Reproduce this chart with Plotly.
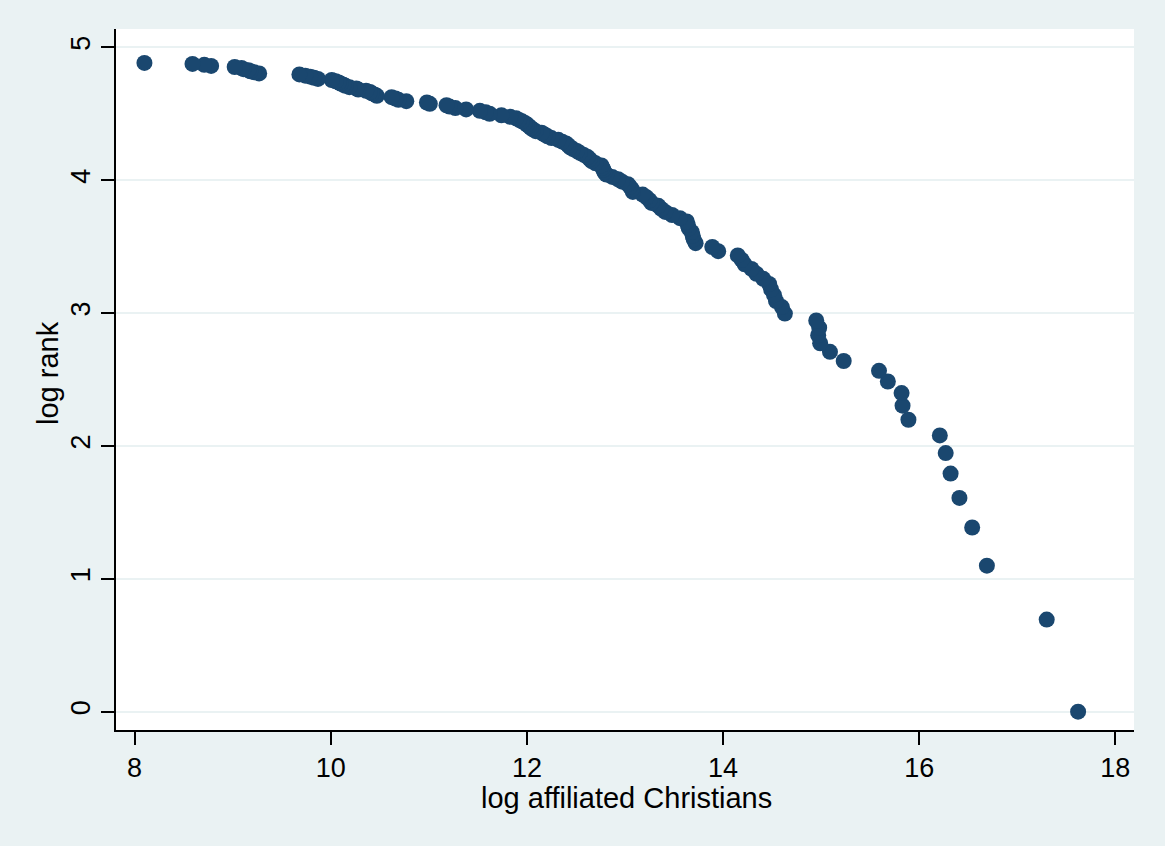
import plotly.graph_objects as go

# log affiliated Christians, ordered by rank 1..132
log_christians = [
    17.62, 17.30, 16.69, 16.54, 16.41, 16.32, 16.27, 16.21, 15.89, 15.83,
    15.82, 15.68, 15.59, 15.23, 15.09, 14.99, 14.97, 14.98, 14.95, 14.63,
    14.60, 14.54, 14.52, 14.49, 14.47, 14.41, 14.34, 14.29, 14.22, 14.19,
    14.15, 13.95, 13.89, 13.72, 13.70, 13.69, 13.68, 13.65, 13.64, 13.63,
    13.56, 13.48, 13.41, 13.37, 13.34, 13.27, 13.25, 13.22, 13.18, 13.08,
    13.07, 13.05, 13.03, 12.97, 12.93, 12.87, 12.81, 12.79, 12.78, 12.77,
    12.76, 12.70, 12.66, 12.64, 12.62, 12.58, 12.54, 12.51, 12.47, 12.44,
    12.42, 12.40, 12.36, 12.32, 12.25, 12.21, 12.18, 12.15, 12.09, 12.06,
    12.04, 12.02, 12.00, 11.98, 11.95, 11.92, 11.89, 11.83, 11.74, 11.62,
    11.58, 11.52, 11.38, 11.27, 11.21, 11.18, 11.01, 10.98, 10.77, 10.69,
    10.66, 10.62, 10.47, 10.45, 10.42, 10.40, 10.36, 10.28, 10.26, 10.19,
    10.15, 10.13, 10.10, 10.08, 10.05, 10.01, 9.87, 9.83, 9.79, 9.74,
    9.68, 9.27, 9.22, 9.18, 9.16, 9.11, 9.09, 9.02, 8.78, 8.71,
    8.59, 8.10,
]

# log rank (ln of ranks 1..132)
log_rank = [
    0.000, 0.693, 1.099, 1.386, 1.609, 1.792, 1.946, 2.079, 2.197, 2.303,
    2.398, 2.485, 2.565, 2.639, 2.708, 2.773, 2.833, 2.890, 2.944, 2.996,
    3.045, 3.091, 3.135, 3.178, 3.219, 3.258, 3.296, 3.332, 3.367, 3.401,
    3.434, 3.466, 3.497, 3.526, 3.555, 3.584, 3.611, 3.638, 3.664, 3.689,
    3.714, 3.738, 3.761, 3.784, 3.807, 3.829, 3.850, 3.871, 3.892, 3.912,
    3.932, 3.951, 3.970, 3.989, 4.007, 4.025, 4.043, 4.060, 4.078, 4.094,
    4.111, 4.127, 4.143, 4.159, 4.174, 4.190, 4.205, 4.220, 4.234, 4.248,
    4.263, 4.277, 4.290, 4.304, 4.317, 4.331, 4.344, 4.357, 4.369, 4.382,
    4.394, 4.407, 4.419, 4.431, 4.443, 4.454, 4.466, 4.477, 4.489, 4.500,
    4.511, 4.522, 4.533, 4.543, 4.554, 4.564, 4.575, 4.585, 4.595, 4.605,
    4.615, 4.625, 4.635, 4.644, 4.654, 4.663, 4.673, 4.682, 4.691, 4.700,
    4.710, 4.718, 4.727, 4.736, 4.745, 4.754, 4.762, 4.771, 4.779, 4.787,
    4.796, 4.804, 4.812, 4.820, 4.828, 4.836, 4.844, 4.852, 4.860, 4.868,
    4.875, 4.883,
]

x_ticks = [8, 10, 12, 14, 16, 18]
y_ticks = [0, 1, 2, 3, 4, 5]
x_title = "log affiliated Christians"
y_title = "log rank"

BG = "#EAF2F3"
NAVY = "#1A476F"
FONT = "Liberation Sans, Arial, sans-serif"

fig = go.Figure()
fig.add_trace(go.Scatter(
    x=log_christians, y=log_rank, mode="markers",
    marker=dict(color=NAVY, size=16, line=dict(width=0)),
    showlegend=False,
))

fig.update_layout(
    width=1165, height=846,
    paper_bgcolor=BG, plot_bgcolor="white",
    margin=dict(l=116, r=31, t=29, b=116),
    font=dict(family=FONT, color="black", size=27),
)
fig.update_xaxes(
    range=[7.81, 18.19], tickvals=x_ticks, ticktext=[str(v) for v in x_ticks],
    showgrid=False, zeroline=False,
    showline=True, linecolor="black", linewidth=1.5,
    ticks="outside", ticklen=13, tickwidth=1.5, tickcolor="black",
    tickfont=dict(size=27),
)
fig.update_yaxes(
    range=[-0.138, 5.138], tickvals=y_ticks, ticktext=[str(v) for v in y_ticks],
    showgrid=True, gridcolor=BG, gridwidth=2, zeroline=False,
    showline=True, linecolor="black", linewidth=1.5,
    ticks="outside", ticklen=13, tickwidth=1.5, tickcolor="black",
    tickangle=-90, tickfont=dict(size=27),
)

# axis titles placed as annotations (paper coords; plot area is 1018 x 701 px)
fig.add_annotation(
    text=x_title, xref="paper", yref="paper",
    x=(626 - 116) / 1018, y=-(798 - 730) / 701,
    xanchor="center", yanchor="middle", showarrow=False,
    font=dict(size=29),
)
fig.add_annotation(
    text=y_title, xref="paper", yref="paper",
    x=(48 - 116) / 1018, y=(730 - 373) / 701,
    xanchor="center", yanchor="middle", showarrow=False,
    textangle=-90, font=dict(size=29),
)

fig.write_html("out.html")
